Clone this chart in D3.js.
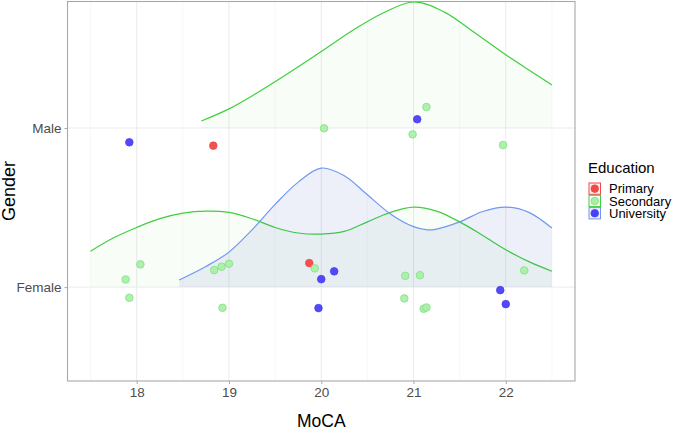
<!DOCTYPE html>
<html>
<head>
<meta charset="utf-8">
<script src="https://cdn.jsdelivr.net/npm/d3@7"></script>
<style>
  body { margin: 0; background: #fff; }
  svg text { font-family: "Liberation Sans", Arial, sans-serif; }
</style>
</head>
<body>
<div id="draw"></div>
<script>
var genders = ['Female', 'Male'];
var educations = ['Primary', 'Secondary', 'University'];
var xTicks = [18, 19, 20, 21, 22];

// density ridges, heights in ridge steps
var maleSecondaryX = [18.70, 19.00, 19.33, 19.66, 20.00, 20.33, 20.66, 21.00, 21.33, 21.66, 22.00, 22.33, 22.50];
var maleSecondaryH = [0.044, 0.12, 0.23, 0.35, 0.48, 0.61, 0.72, 0.792, 0.73, 0.60, 0.46, 0.335, 0.27];

var femaleSecondaryX = [17.50, 17.75, 18.00, 18.25, 18.50, 18.75, 19.00, 19.25, 19.50, 19.75, 20.00, 20.25, 20.50, 20.75, 21.00, 21.25, 21.50, 21.75, 22.00, 22.25, 22.50];
var femaleSecondaryH = [0.226, 0.31, 0.375, 0.43, 0.465, 0.478, 0.47, 0.43, 0.375, 0.34, 0.333, 0.35, 0.41, 0.47, 0.503, 0.478, 0.41, 0.325, 0.235, 0.16, 0.10];

var femaleUniversityX = [18.46, 18.75, 19.00, 19.25, 19.50, 19.75, 20.00, 20.25, 20.50, 20.75, 21.00, 21.15, 21.25, 21.50, 21.75, 22.00, 22.25, 22.50];
var femaleUniversityH = [0.045, 0.13, 0.22, 0.36, 0.52, 0.66, 0.748, 0.70, 0.58, 0.46, 0.38, 0.36, 0.365, 0.41, 0.475, 0.503, 0.47, 0.371];

// points: MoCA, gender, education, vertical jitter (ridge steps)
var pointMoCA = [17.92, 18.83, 20.03, 21.14, 21.04, 20.99, 21.97,
  18.04, 17.88, 17.92, 18.84, 18.92, 19.00, 18.93, 19.87, 19.93, 20.00, 20.14, 19.97,
  20.91, 21.07, 20.90, 21.11, 21.14, 21.94, 22.00, 22.20];
var pointGender = ['Male', 'Male', 'Male', 'Male', 'Male', 'Male', 'Male',
  'Female', 'Female', 'Female', 'Female', 'Female', 'Female', 'Female', 'Female', 'Female', 'Female', 'Female', 'Female',
  'Female', 'Female', 'Female', 'Female', 'Female', 'Female', 'Female', 'Female'];
var pointEducation = ['University', 'Primary', 'Secondary', 'Secondary', 'University', 'Secondary', 'Secondary',
  'Secondary', 'Secondary', 'Secondary', 'Secondary', 'Secondary', 'Secondary', 'Secondary', 'Primary', 'Secondary', 'University', 'University', 'University',
  'Secondary', 'Secondary', 'Secondary', 'Secondary', 'Secondary', 'University', 'University', 'Secondary'];
var pointJitter = [-0.09, -0.111, -0.002, 0.132, 0.055, -0.04, -0.107,
  0.143, 0.048, -0.067, 0.107, 0.128, 0.147, -0.13, 0.151, 0.118, 0.05, 0.099, -0.132,
  0.071, 0.075, -0.071, -0.136, -0.128, -0.019, -0.107, 0.105];

var ridges = [
  { gender: 'Male', edu: 'Secondary', xs: maleSecondaryX, hs: maleSecondaryH },
  { gender: 'Female', edu: 'Secondary', xs: femaleSecondaryX, hs: femaleSecondaryH },
  { gender: 'Female', edu: 'University', xs: femaleUniversityX, hs: femaleUniversityH }
];

var lineColor = { Primary: '#f04848', Secondary: '#3fcf3f', University: '#6f98f0' };
var areaColor = { Primary: 'rgba(240,72,72,0.08)', Secondary: 'rgba(40,200,40,0.03)', University: 'rgba(63,81,181,0.085)' };
var dotFill = { Primary: '#f24848', Secondary: '#a8f0a8', University: '#4a3ff5' };
var dotStroke = { Primary: '#f24848', Secondary: '#85de85', University: '#4a3ff5' };

var W = 675, H = 431;
var x = d3.scaleLinear().domain([17.25, 22.75]).range([67.5, 575]);
var y = d3.scaleLinear().domain([0.41, 2.795]).range([381, 1.5]);
var gpos = function(g){ return genders.indexOf(g) + 1; };

var svg = d3.select('#draw').append('svg').attr('width', W).attr('height', H);

// grid
var grid = svg.append('g');
grid.selectAll('line.minor')
    .data(d3.range(17.5, 23, 1))
    .enter().append('line')
    .attr('x1', function(d){ return x(d); }).attr('x2', function(d){ return x(d); })
    .attr('y1', y.range()[0]).attr('y2', y.range()[1])
    .attr('stroke', '#f4f4f4').attr('stroke-width', 0.6);
grid.selectAll('line.majx')
    .data(xTicks)
    .enter().append('line')
    .attr('x1', function(d){ return x(d); }).attr('x2', function(d){ return x(d); })
    .attr('y1', y.range()[0]).attr('y2', y.range()[1])
    .attr('stroke', '#ebebeb').attr('stroke-width', 1);
grid.selectAll('line.majy')
    .data(genders)
    .enter().append('line')
    .attr('x1', x.range()[0]).attr('x2', x.range()[1])
    .attr('y1', function(d){ return y(gpos(d)); }).attr('y2', function(d){ return y(gpos(d)); })
    .attr('stroke', '#ebebeb').attr('stroke-width', 1);

// ridges
var ridgeG = svg.append('g');
ridges.forEach(function(r){
  var pts = r.xs.map(function(v, i){ return [v, r.hs[i]]; });
  var base = gpos(r.gender);
  var area = d3.area()
      .x(function(d){ return x(d[0]); })
      .y0(y(base))
      .y1(function(d){ return y(base + d[1]); })
      .curve(d3.curveCatmullRom);
  var line = d3.line()
      .x(function(d){ return x(d[0]); })
      .y(function(d){ return y(base + d[1]); })
      .curve(d3.curveCatmullRom);
  ridgeG.append('path').attr('d', area(pts)).attr('fill', areaColor[r.edu]);
  ridgeG.append('path').attr('d', line(pts)).attr('fill', 'none')
      .attr('stroke', lineColor[r.edu]).attr('stroke-width', 1.2);
});

// points
svg.append('g').selectAll('circle')
    .data(pointMoCA)
    .enter().append('circle')
    .attr('cx', function(d){ return x(d); })
    .attr('cy', function(d, i){ return y(gpos(pointGender[i]) + pointJitter[i]); })
    .attr('r', 3.8)
    .attr('fill', function(d, i){ return dotFill[pointEducation[i]]; })
    .attr('fill-opacity', 0.95)
    .attr('stroke', function(d, i){ return dotStroke[pointEducation[i]]; })
    .attr('stroke-width', 0.8);

// panel border
svg.append('rect')
    .attr('x', x.range()[0]).attr('y', y.range()[1])
    .attr('width', x.range()[1] - x.range()[0]).attr('height', y.range()[0] - y.range()[1])
    .attr('fill', 'none').attr('stroke', '#a8a8a8').attr('stroke-width', 1.1);

// x axis
var xa = svg.append('g').attr('transform', 'translate(0,' + y.range()[0] + ')')
    .call(d3.axisBottom(x).tickValues(xTicks).tickSize(3).tickPadding(3).tickFormat(d3.format('d')));
xa.select('.domain').remove();
xa.selectAll('line').attr('stroke', '#a8a8a8');
xa.selectAll('text').attr('fill', '#4d4d4d').style('font-size', '13.5px')
    .style('font-family', '"Liberation Sans", Arial, sans-serif');

// y axis
var ya = svg.append('g').attr('transform', 'translate(' + x.range()[0] + ',0)')
    .call(d3.axisLeft(y).tickValues([1, 2]).tickSize(3).tickPadding(3)
      .tickFormat(function(d){ return genders[d - 1]; }));
ya.select('.domain').remove();
ya.selectAll('line').attr('stroke', '#a8a8a8');
ya.selectAll('text').attr('fill', '#4d4d4d').style('font-size', '13.5px')
    .style('font-family', '"Liberation Sans", Arial, sans-serif');

// axis titles
svg.append('text').attr('x', x(20)).attr('y', 427)
    .attr('text-anchor', 'middle').style('font-size', '17.5px').text('MoCA');
svg.append('text').attr('transform', 'translate(15,191) rotate(-90)')
    .attr('text-anchor', 'middle').style('font-size', '18px').text('Gender');

// legend
var lg = svg.append('g').attr('transform', 'translate(588,0)');
lg.append('text').attr('x', 0).attr('y', 173).style('font-size', '15px').text('Education');
var items = lg.selectAll('g.item').data(educations).enter().append('g')
    .attr('transform', function(d, i){ return 'translate(0,' + (182.5 + i * 12.3) + ')'; });
items.append('rect').attr('x', 1).attr('y', 0.5).attr('width', 11.5).attr('height', 11.3)
    .attr('fill', function(d){ return areaColor[d]; })
    .attr('stroke', function(d){ return lineColor[d]; }).attr('stroke-width', 1);
items.append('circle').attr('cx', 6.75).attr('cy', 6.15).attr('r', 3.8)
    .attr('fill', function(d){ return dotFill[d]; })
    .attr('stroke', function(d){ return dotStroke[d]; }).attr('stroke-width', 0.8);
items.append('text').attr('x', 21).attr('y', 6.3).attr('dy', '0.35em')
    .style('font-size', '13px').text(function(d){ return d; });
</script>
</body>
</html>
